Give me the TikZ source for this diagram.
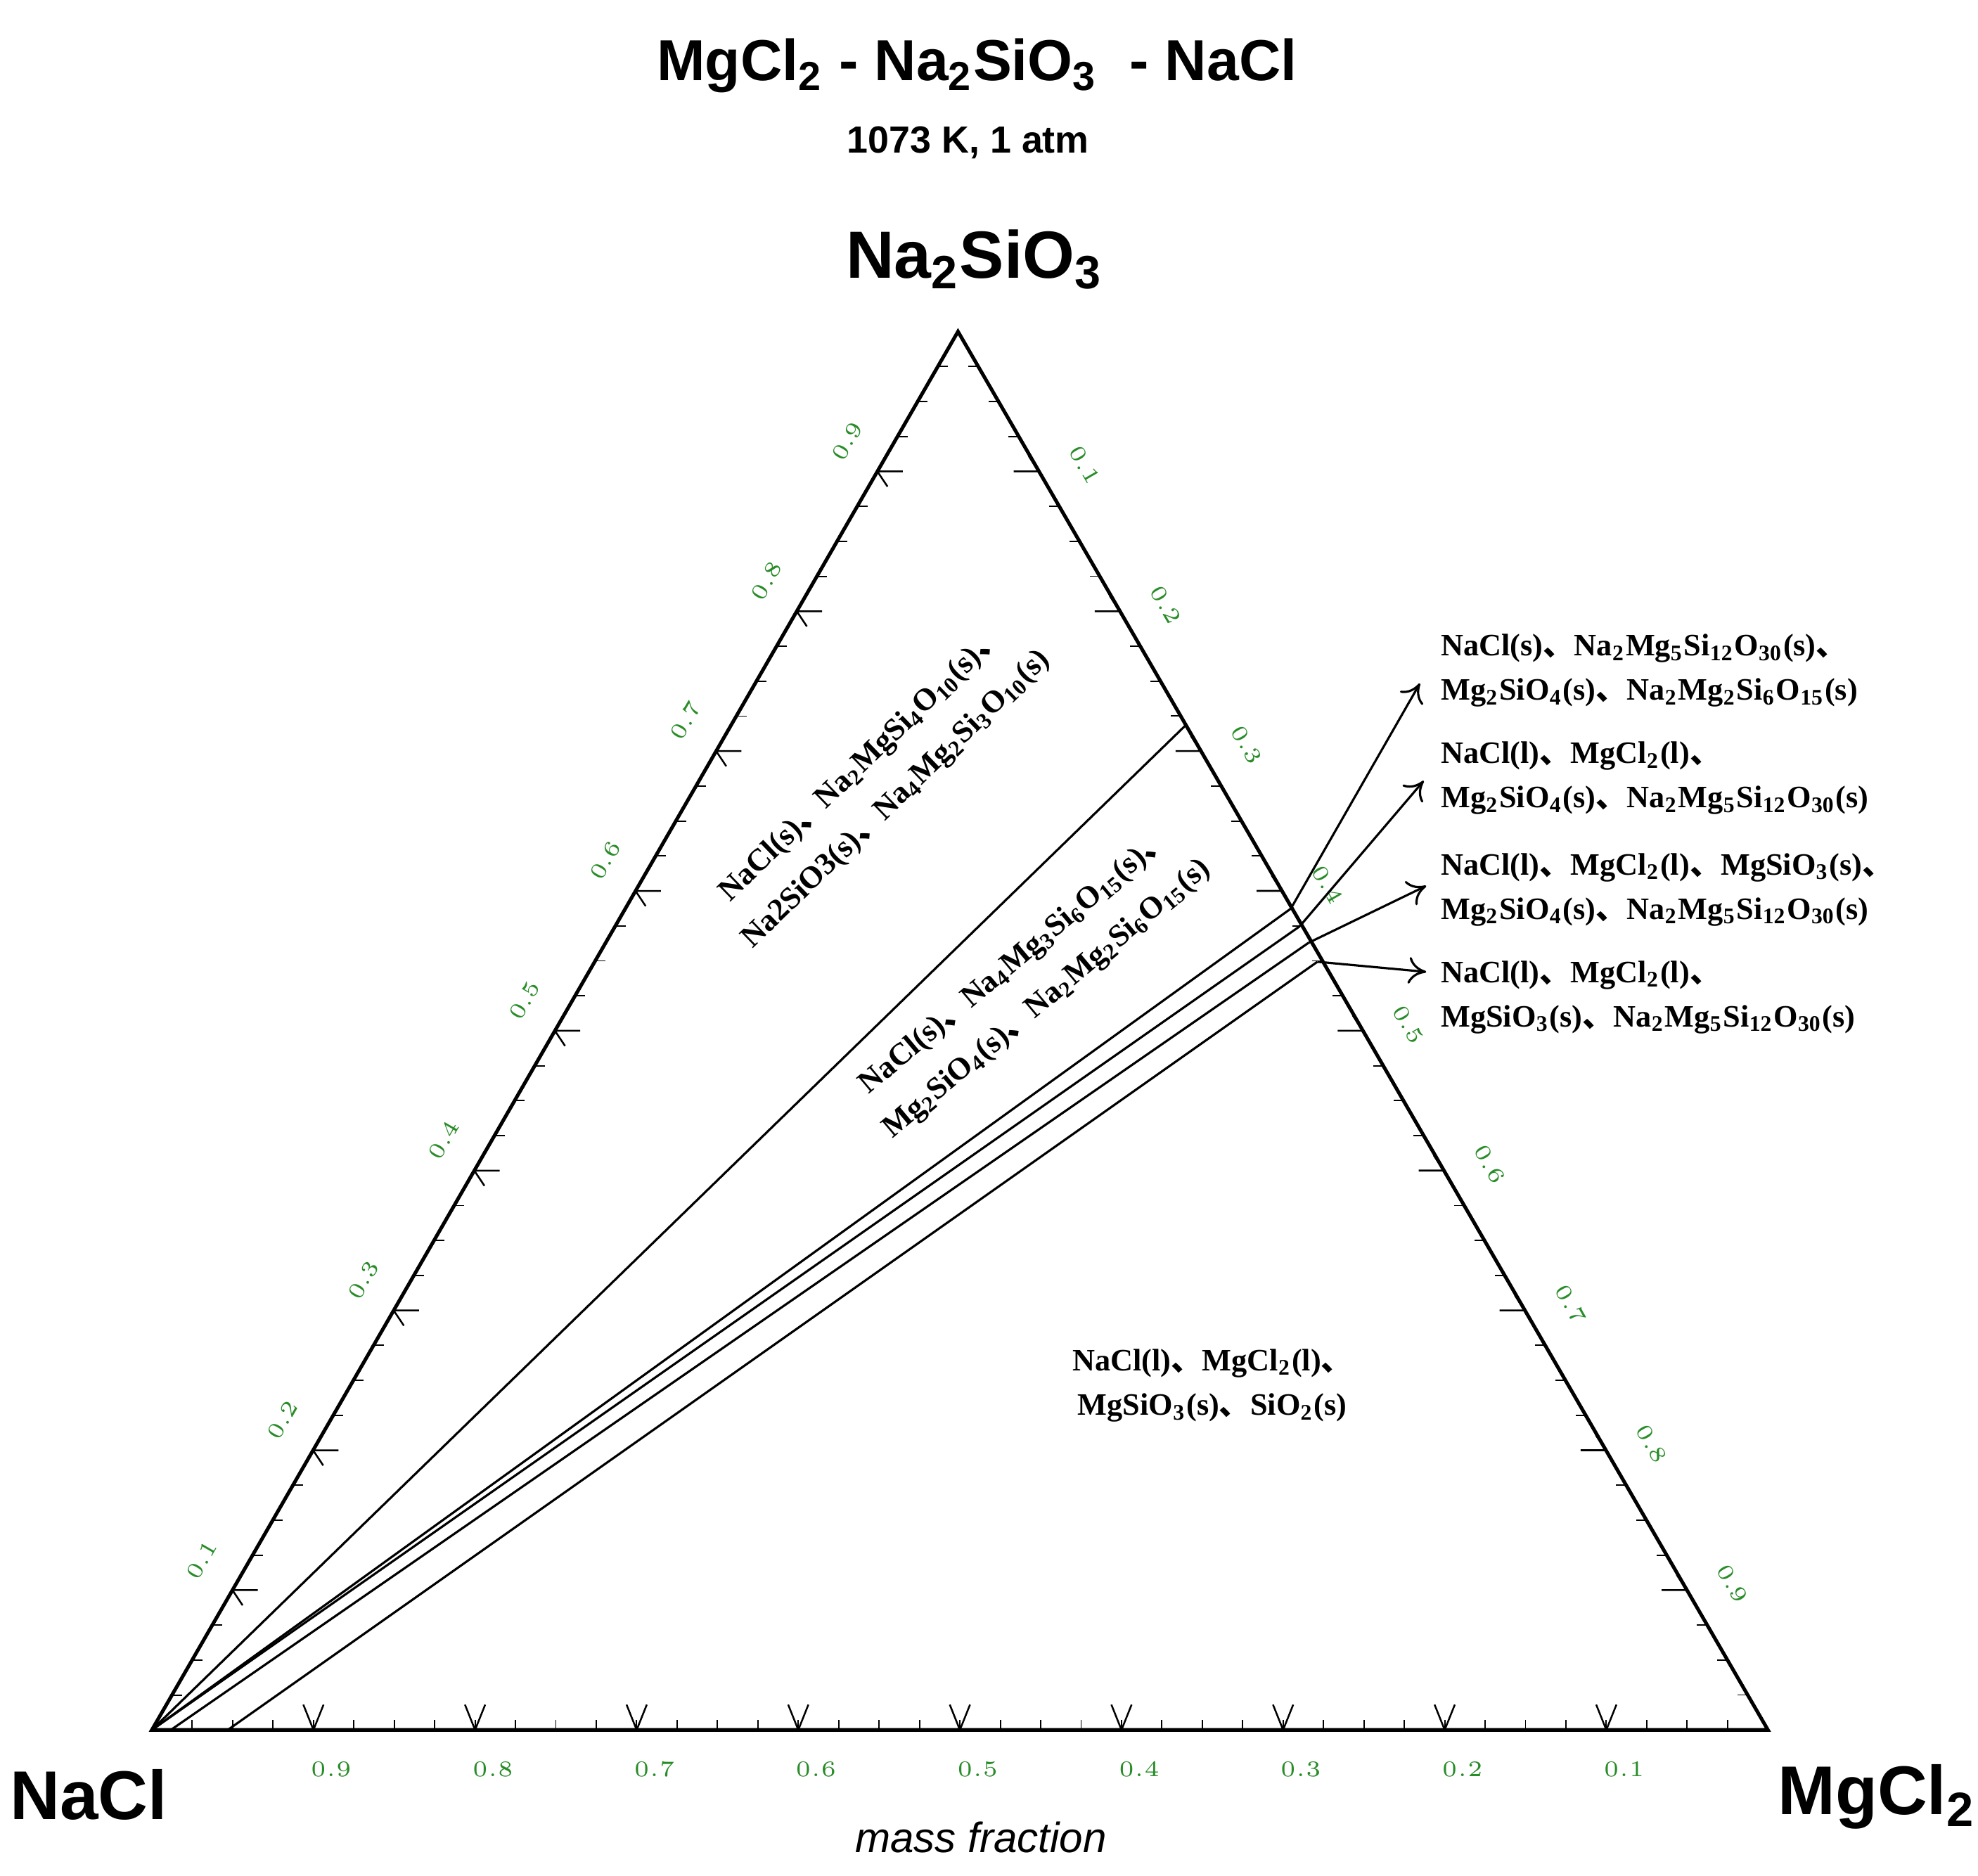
\documentclass[tikz,border=0pt]{standalone}
\usepackage{fontspec}
\usetikzlibrary{calc,arrows.meta}
\setmainfont{Liberation Serif}
\newfontfamily\arial{Liberation Sans}
\newfontfamily\cjk{Noto Sans CJK SC}
\definecolor{tickgreen}{RGB}{40,140,40}
\newcommand{\dn}{\smash{\cjk\bfseries 、}}
\newcommand{\sbs}[1]{\textsubscript{#1}}
\begin{document}
\begin{tikzpicture}[x=0.01cm,y=-0.01cm,
  lbl/.style={font=\bfseries\fontsize{7}{10}\selectfont,align=left,inner sep=0},
  rlbl/.style={font=\bfseries\fontsize{7}{11}\selectfont,align=center,inner sep=0},
  tk/.style={text=tickgreen,font=\fontsize{5.5}{7}\selectfont,inner sep=0},
  edge/.style={line width=0.8pt},
  tie/.style={line width=0.5pt},
  arr/.style={line width=0.5pt,-{To[length=4pt,width=6pt]}}]
\useasboundingbox (0,0) rectangle (1563,1482);
\coordinate (A) at (120,1367);
\coordinate (B) at (1397,1367);
\coordinate (C) at (757,262);
\draw[edge] (A) -- (B) -- (C) -- cycle;
% ticks
\foreach \i in {1,...,39}{
  \pgfmathsetmacro{\t}{\i/40}
  \draw[line width=0.3pt] ($(A)!\t!(B)$) -- ++(0,-8);
  \draw[line width=0.3pt] ($(A)!\t!(C)$) -- ++(8,0);
  \draw[line width=0.3pt] ($(C)!\t!(B)$) -- ++(-8,0);
}
\foreach \i in {1,...,9}{
  \pgfmathsetmacro{\t}{\i/10}
  \draw[line width=0.4pt] ($(A)!\t!(B)$) -- ++(-8,-20) ($(A)!\t!(B)$) -- ++(8,-20);
  \draw[line width=0.4pt] ($(A)!\t!(C)$) -- ++(20,0) ($(A)!\t!(C)$) -- ++(8,12);
  \draw[line width=0.4pt] ($(C)!\t!(B)$) -- ++(-20,0) ($(C)!\t!(B)$) -- ++(-8,-12);
  \pgfmathsetmacro{\v}{1-\t}
  \node[tk] at ($(A)!\t!(B)+(14,31)$) {\pgfmathprintnumber[fixed,precision=1]{\v}};
  \node[tk,rotate=60] at ($(A)!\t!(C)+(-24,-24)$) {\pgfmathprintnumber[fixed,precision=1]{\t}};
  \node[tk,rotate=-60] at ($(C)!\t!(B)+(36,-5)$) {\pgfmathprintnumber[fixed,precision=1]{\t}};
}
% tie lines
\coordinate (E1) at (937,573);
\coordinate (E2) at (1020,718);
\coordinate (E3) at (1027,732);
\coordinate (E4) at (1034,745);
\coordinate (E5) at (1041,760);
\coordinate (S4) at (135,1367);
\coordinate (S5) at (180,1367);
\draw[tie] (A) -- (E1);
\draw[tie] (A) -- (E2);
\draw[tie] (A) -- (E3);
\draw[tie] (S4) -- (E4);
\draw[tie] (S5) -- (E5);
% right labels
\node[lbl,anchor=west] (R1) at (1138,530) {NaCl(s)\dn Na\sbs{2}Mg\sbs{5}Si\sbs{12}O\sbs{30}(s)\dn\\Mg\sbs{2}SiO\sbs{4}(s)\dn Na\sbs{2}Mg\sbs{2}Si\sbs{6}O\sbs{15}(s)};
\node[lbl,anchor=west] (R2) at (1138,615) {NaCl(l)\dn MgCl\sbs{2}(l)\dn\\Mg\sbs{2}SiO\sbs{4}(s)\dn Na\sbs{2}Mg\sbs{5}Si\sbs{12}O\sbs{30}(s)};
\node[lbl,anchor=west] (R3) at (1138,703) {NaCl(l)\dn MgCl\sbs{2}(l)\dn MgSiO\sbs{3}(s)\dn\\Mg\sbs{2}SiO\sbs{4}(s)\dn Na\sbs{2}Mg\sbs{5}Si\sbs{12}O\sbs{30}(s)};
\node[lbl,anchor=west] (R4) at (1138,788) {NaCl(l)\dn MgCl\sbs{2}(l)\dn\\MgSiO\sbs{3}(s)\dn Na\sbs{2}Mg\sbs{5}Si\sbs{12}O\sbs{30}(s)};
\coordinate (T1) at (1122,540);
\coordinate (T2) at (1125,617);
\coordinate (T3) at (1127,700);
\coordinate (T4) at (1127,768);
\draw[arr] (E2) -- (T1);
\draw[arr] (E3) -- (T2);
\draw[arr] (E4) -- (T3);
\draw[arr] (E5) -- (T4);
% region labels
\node[rlbl,rotate=44] (RA) at (695,618) {NaCl(s)\dn Na\sbs{2}MgSi\sbs{4}O\sbs{10}(s)\dn\\Na2SiO3(s)\dn Na\sbs{4}Mg\sbs{2}Si\sbs{3}O\sbs{10}(s)};
\node[rlbl,rotate=40] (RB) at (815,775) {NaCl(s)\dn Na\sbs{4}Mg\sbs{3}Si\sbs{6}O\sbs{15}(s)\dn\\Mg\sbs{2}SiO\sbs{4}(s)\dn Na\sbs{2}Mg\sbs{2}Si\sbs{6}O\sbs{15}(s)};
\node[lbl,align=center] (RC) at (958,1095) {NaCl(l)\dn MgCl\sbs{2}(l)\dn\\MgSiO\sbs{3}(s)\dn SiO\sbs{2}(s)};
% titles
\node[font=\arial\bfseries\fontsize{13}{15}\selectfont] (t1) at (772,52) {MgCl\sbs{2} - Na\sbs{2}SiO\sbs{3} \ - NaCl};
\node[font=\arial\bfseries\fontsize{8.5}{11}\selectfont] (t2) at (765,113) {1073 K, 1 atm};
\node[font=\arial\bfseries\fontsize{15}{18}\selectfont] (vC) at (770,205) {Na\sbs{2}SiO\sbs{3}};
\node[font=\arial\bfseries\fontsize{15.5}{18}\selectfont] (vA) at (70,1418) {NaCl};
\node[font=\arial\bfseries\fontsize{15.5}{18}\selectfont] (vB) at (1483,1420) {MgCl\sbs{2}};
\node[font=\arial\itshape\fontsize{9.5}{12}\selectfont] (mf) at (775,1452) {mass fraction};
\end{tikzpicture}
\end{document}
